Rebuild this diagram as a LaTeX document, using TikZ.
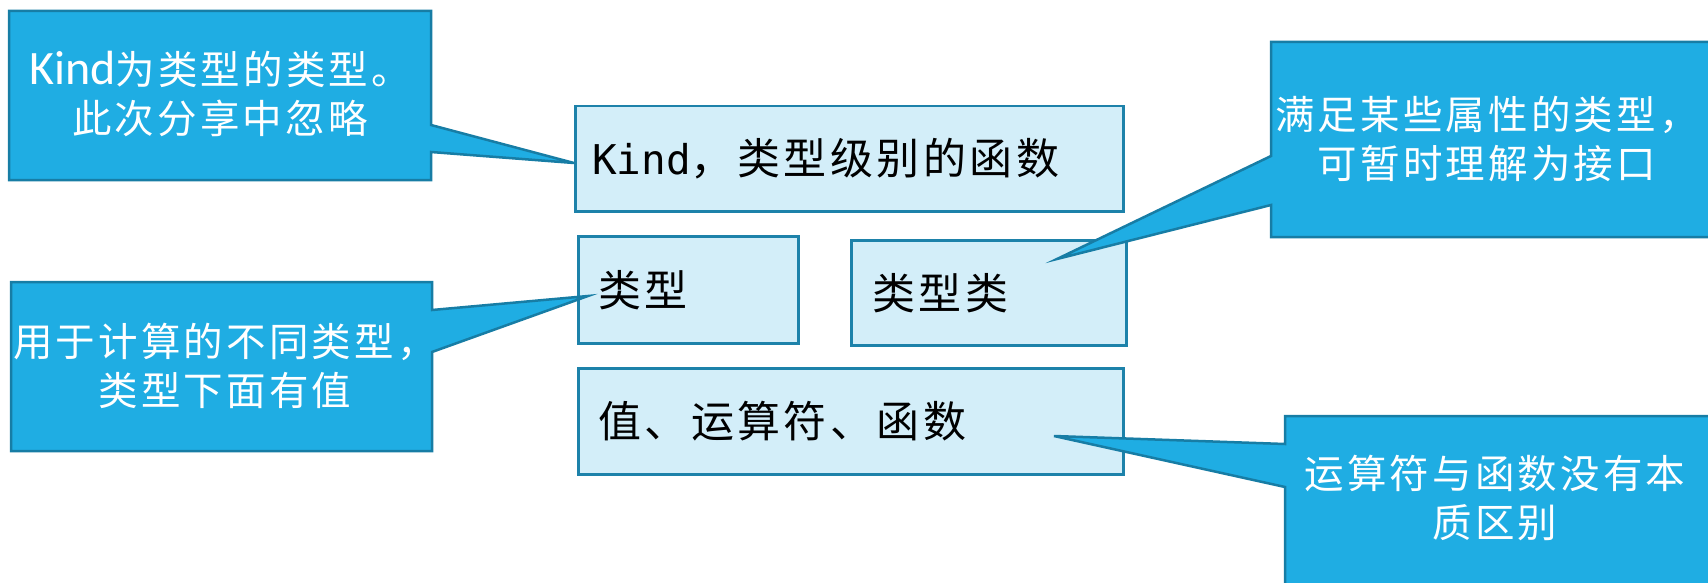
\documentclass[tikz,border=0pt]{standalone}
\usepackage{fontspec}
\setmainfont{Noto Sans CJK SC}
\newfontfamily\cjk{Noto Sans CJK SC}[LetterSpace=8]
\newfontfamily\lat{Carlito}
\newfontfamily\mono{DejaVu Sans Mono}
\definecolor{calfill}{HTML}{1FADE3}
\definecolor{caldraw}{HTML}{177DA5}
\definecolor{boxfill}{HTML}{D3EEF9}
\definecolor{boxdraw}{HTML}{1D82AA}
\tikzset{
  callout/.style={fill=calfill, draw=caldraw, line width=2.5pt, line join=miter},
  calltext/.style={text=white, align=center, font=\cjk\fontsize{39.5}{49}\selectfont, inner sep=0pt},
  box/.style={fill=boxfill, draw=boxdraw, line width=2.5pt, anchor=north west, align=left,
    font=\cjk\fontsize{43}{49}\selectfont, text=black, inner ysep=0pt},
}
\begin{document}
\begin{tikzpicture}[x=1pt,y=-1pt]
\useasboundingbox (0,0) rectangle (1708,583);
% boxes
\node[box, inner xsep=17pt, text width=514pt, minimum height=105pt] (kind) at (574,105)
  {{\mono\fontsize{41}{49}\selectfont Kind}，类型级别的函数};
\node[box, inner xsep=20pt, text width=180pt, minimum height=107pt] (typ) at (577,235) {类型};
\node[box, inner xsep=21pt, text width=233pt, minimum height=105pt] (tcls) at (850,239) {类型类};
\node[box, inner xsep=20pt, text width=505pt, minimum height=106pt] (val) at (577,367) {值、运算符、函数};
% tips
\coordinate (t1) at (574,163);
\coordinate (t2) at (1057,259);
\coordinate (t3) at (588,296);
\coordinate (t4) at (1054,436);
% callout 1
\draw[callout] (9,11) -- (431,11) -- (431,125) -- (t1) -- (431,152) -- (431,180) -- (9,180) -- cycle;
\node[calltext] (c1) at (220,94) {{\lat\fontsize{48}{49}\selectfont Kind}为类型的类型。\\此次分享中忽略};
% callout 2
\draw[callout] (1271,42) -- (1712,42) -- (1712,237) -- (1271,237) -- (1271,205) -- (t2) -- (1271,156) -- cycle;
\node[calltext] (c2) at (1487,139) {满足某些属性的类型，\\可暂时理解为接口};
% callout 3
\draw[callout] (11,282) -- (432,282) -- (432,310) -- (t3) -- (432,352) -- (432,451) -- (11,451) -- cycle;
\node[calltext] (c3) at (225,366) {用于计算的不同类型，\\类型下面有值};
% callout 4
\draw[callout] (1285,416) -- (1712,416) -- (1712,590) -- (1285,590) -- (1285,487) -- (t4) -- (1285,444) -- cycle;
\node[calltext] (c4) at (1495,498) {运算符与函数没有本\\质区别};
\end{tikzpicture}
\end{document}
